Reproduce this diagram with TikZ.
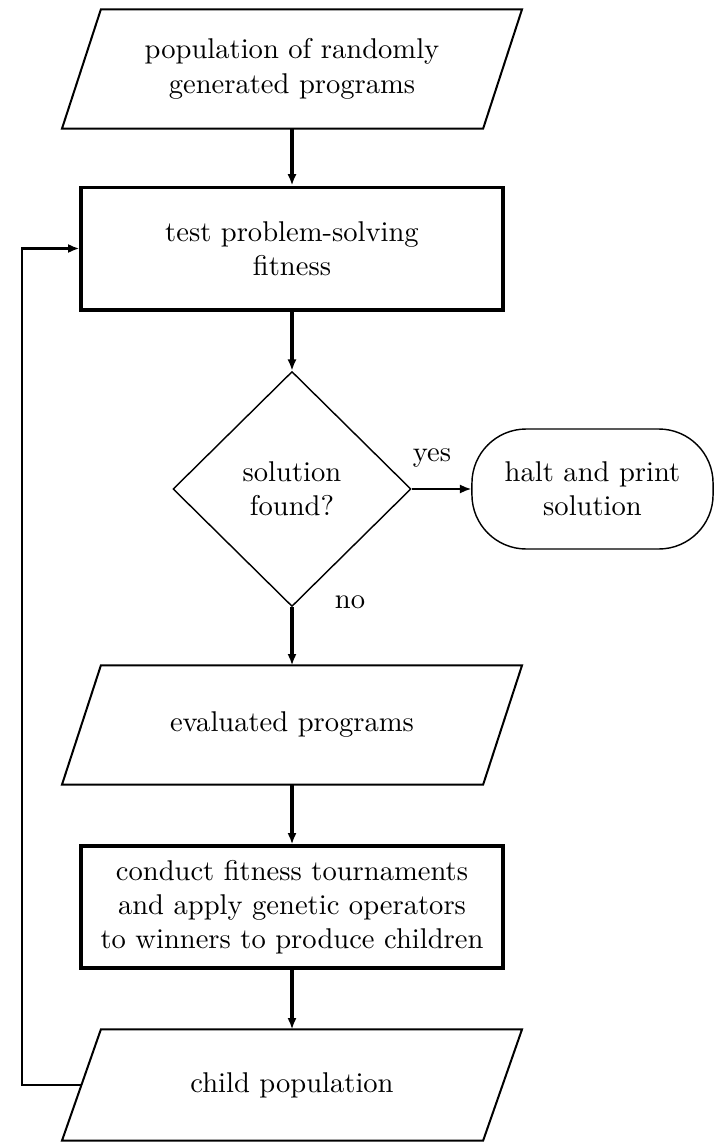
\documentclass[tikz,border=0pt]{standalone}
\usetikzlibrary{shapes.geometric,arrows.meta}
\begin{document}
\begin{tikzpicture}[x=0.35pt,y=-0.35pt,
  iobox/.style={rectangle, minimum width=147pt, minimum height=41.3pt, inner sep=0pt, align=center},
  ioline/.style={draw, line width=0.7pt},
  procbox/.style={rectangle, draw, line width=1.1pt, minimum width=147.7pt, inner sep=0pt, align=center},
  decbox/.style={diamond, draw, line width=0.5pt, minimum width=83.3pt, minimum height=82.25pt, inner sep=0pt, align=center},
  termbox/.style={rectangle, draw, line width=0.5pt, rounded corners=19pt, minimum width=84.4pt, minimum height=42pt, inner sep=0pt, align=center},
  flow/.style={line width=1.1pt, -{Latex[length=4pt,width=3.2pt]}},
  thinflow/.style={line width=0.6pt, -{Latex[length=4pt,width=3.2pt]}},
  loopflow/.style={line width=0.8pt, -{Latex[length=4pt,width=3.2pt]}},
  lbl/.style={inner sep=0pt}]
\useasboundingbox (0,0) rectangle (715,1144);

\node[iobox] (p1) at (292,69) {population of randomly\\generated programs};
\node[procbox, minimum height=43pt] (r2) at (292,248.5) {test problem-solving\\fitness};
\node[decbox] (d) at (292,489) {solution\\found?};
\node[termbox] (h) at (592.5,489) {halt and print\\solution};
\node[iobox] (p3) at (292,725) {evaluated programs};
\node[procbox, minimum height=42.7pt] (r4) at (292,907) {conduct fitness tournaments\\and apply genetic operators\\to winners to produce children};
\node[iobox, minimum height=38.5pt] (p5) at (292,1085) {child population};

\foreach \n in {p1,p3,p5}
  \draw[ioline] ([xshift=6.8pt]\n.north west) -- ([xshift=6.8pt]\n.north east)
     -- ([xshift=-6.8pt]\n.south east) -- ([xshift=-6.8pt]\n.south west) -- cycle;

\node[lbl] (yes) at (432,458) {yes};
\node[lbl] (no) at (350,602) {no};

\draw[flow] (p1.south) -- (r2.north);
\draw[flow] (r2.south) -- (d.north);
\draw[thinflow] (d.east) -- (h.west);
\draw[flow] (d.south) -- (p3.north);
\draw[flow] (p3.south) -- (r4.north);
\draw[flow] (r4.south) -- (p5.north);

\coordinate (lx) at (22,0);
\draw[loopflow] (p5.west) -- (p5.west -| lx) |- (r2.west);
\end{tikzpicture}
\end{document}
